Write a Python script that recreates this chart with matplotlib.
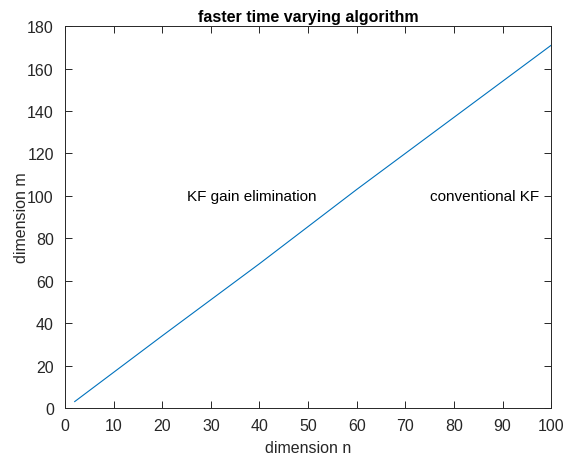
import matplotlib.pyplot as plt

n_vals = [2, 20, 40, 60, 80, 100]
m_vals = [3, 34, 68, 103, 137, 171]

region_labels = ['KF gain elimination', 'conventional KF']
label_n = [25, 75]
label_m = [100, 100]

plt.rcParams['font.family'] = ['Liberation Sans', 'DejaVu Sans']

fig = plt.figure(figsize=(5.7, 4.6), dpi=100)
ax = fig.add_axes([0.114, 0.111, 0.853, 0.830])

ax.plot(n_vals, m_vals, color='#0072BD', linewidth=0.8)
for txt, x, y in zip(region_labels, label_n, label_m):
    ax.text(x, y, txt, fontsize=11, va='center', ha='left')

ax.set_xlim(0, 100)
ax.set_ylim(0, 180)
ax.set_xticks(range(0, 101, 10))
ax.set_yticks(range(0, 181, 20))
ax.tick_params(direction='in', top=True, right=True, labelsize=11.5, length=5, width=0.7, colors='#262626')
ax.tick_params(axis='x', pad=7)
ax.tick_params(axis='y', pad=8)
for s in ax.spines.values():
    s.set_linewidth(0.7)
    s.set_color('#262626')
ax.set_xlabel('dimension n', fontsize=11.5, color='#262626', labelpad=5)
ax.set_ylabel('dimension m', fontsize=11.5, color='#262626', labelpad=-1)
ax.set_title('faster time varying algorithm', fontsize=11.5, fontweight='bold', pad=4)

fig.savefig('out.png')
